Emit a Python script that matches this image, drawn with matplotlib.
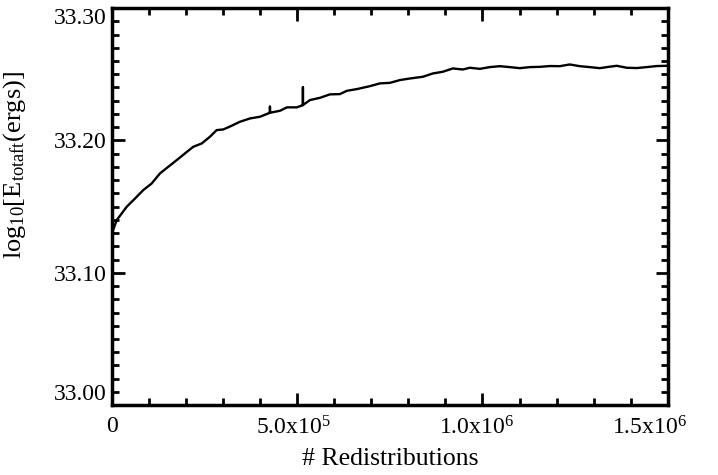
import matplotlib
matplotlib.use('Agg')
import matplotlib.pyplot as plt
import matplotlib.transforms as mtransforms
from matplotlib.ticker import MultipleLocator, FixedLocator, FixedFormatter

#%% data (spikes are repeated x values)
redistributions = [0, 12700, 39700, 62000, 84400, 107100, 129500, 151900, 174500,
                   196900, 219300, 242000, 264400, 282400, 300300, 318300, 345300,
                   372300, 399300, 426300, 426300, 426300, 453200, 472100, 499100,
                   515300, 515300, 515300, 534300, 561300, 588100, 615100, 634000,
                   661000, 696000, 723000, 750000, 777000, 804000, 839000, 866000,
                   893000, 920000, 947000, 965800, 992800, 1019800, 1046800, 1073700,
                   1100700, 1127700, 1154700, 1181700, 1208600, 1235600, 1262600,
                   1289600, 1316500, 1343500, 1362400, 1389400, 1416400, 1443300,
                   1470300, 1500000]
log_energy = [33.1300, 33.1398, 33.1499, 33.1561, 33.1625, 33.1675, 33.1751, 33.1801, 33.1851,
              33.1902, 33.1952, 33.1977, 33.2028, 33.2078, 33.2083, 33.2105, 33.2141,
              33.2166, 33.2179, 33.2209, 33.2255, 33.2209, 33.2224, 33.2250, 33.2250,
              33.2267, 33.2401, 33.2267, 33.2305, 33.2322, 33.2348, 33.2350, 33.2375,
              33.2388, 33.2410, 33.2431, 33.2435, 33.2456, 33.2468, 33.2481, 33.2506,
              33.2519, 33.2544, 33.2536, 33.2549, 33.2541, 33.2554, 33.2561, 33.2554,
              33.2546, 33.2554, 33.2556, 33.2562, 33.2561, 33.2574, 33.2561,
              33.2554, 33.2546, 33.2557, 33.2564, 33.2549, 33.2547, 33.2554,
              33.2562, 33.2564]

x_ticks = [0, 5e5, 1e6, 1.5e6]
x_ticklabels = ['0', '5.0x10$^{5}$', '1.0x10$^{6}$', '1.5x10$^{6}$']
y_ticks = [33.00, 33.10, 33.20, 33.30]
y_ticklabels = ['33.00', '33.10', '33.20', '33.30']

#%% style
plt.rcParams['font.family'] = ['Liberation Serif', 'DejaVu Serif']
plt.rcParams['mathtext.fontset'] = 'custom'
plt.rcParams['mathtext.rm'] = 'Liberation Serif'
plt.rcParams['mathtext.it'] = 'Liberation Serif'
plt.rcParams['mathtext.default'] = 'rm'

fig = plt.figure(figsize=(7.18, 4.75), dpi=100)
ax = fig.add_axes([0.156, 0.147, 0.774, 0.836])

ax.plot(redistributions, log_energy, color='black', lw=1.7)

ax.set_xlim(0, 1.5e6)
ax.set_ylim(33.0, 33.3)

ax.xaxis.set_major_locator(FixedLocator(x_ticks))
ax.xaxis.set_major_formatter(FixedFormatter(x_ticklabels))
ax.xaxis.set_minor_locator(MultipleLocator(1e5))
ax.yaxis.set_major_locator(FixedLocator(y_ticks))
ax.yaxis.set_major_formatter(FixedFormatter(y_ticklabels))
ax.yaxis.set_minor_locator(MultipleLocator(0.01))

ax.tick_params(which='both', direction='in', top=True, right=True, labelsize=17)
ax.tick_params(which='major', length=9, width=2)
ax.tick_params(which='minor', length=5, width=2)
ax.tick_params(axis='x', pad=8)
ax.tick_params(axis='y', pad=4)
for s in ax.spines.values():
    s.set_linewidth(2.5)

# IDL keeps the end labels inside the frame
ylabs = ax.get_yticklabels()
ylabs[0].set_va('bottom')
ylabs[-1].set_va('top')
xlabs = ax.get_xticklabels()
shifts = [0, -4, -6, -18]
for lab, dx in zip(xlabs, shifts):
    lab.set_transform(lab.get_transform() + mtransforms.ScaledTranslation(dx / 100, 0, fig.dpi_scale_trans))

ax.set_xlabel('# Redistributions', fontsize=18.5, labelpad=6)
ax.set_ylabel('log$_{10}$[E$_{\\rm totaft}$(ergs)]', fontsize=19)
ax.yaxis.set_label_coords(-0.151, 0.605)

fig.savefig('out.png', dpi=100)
